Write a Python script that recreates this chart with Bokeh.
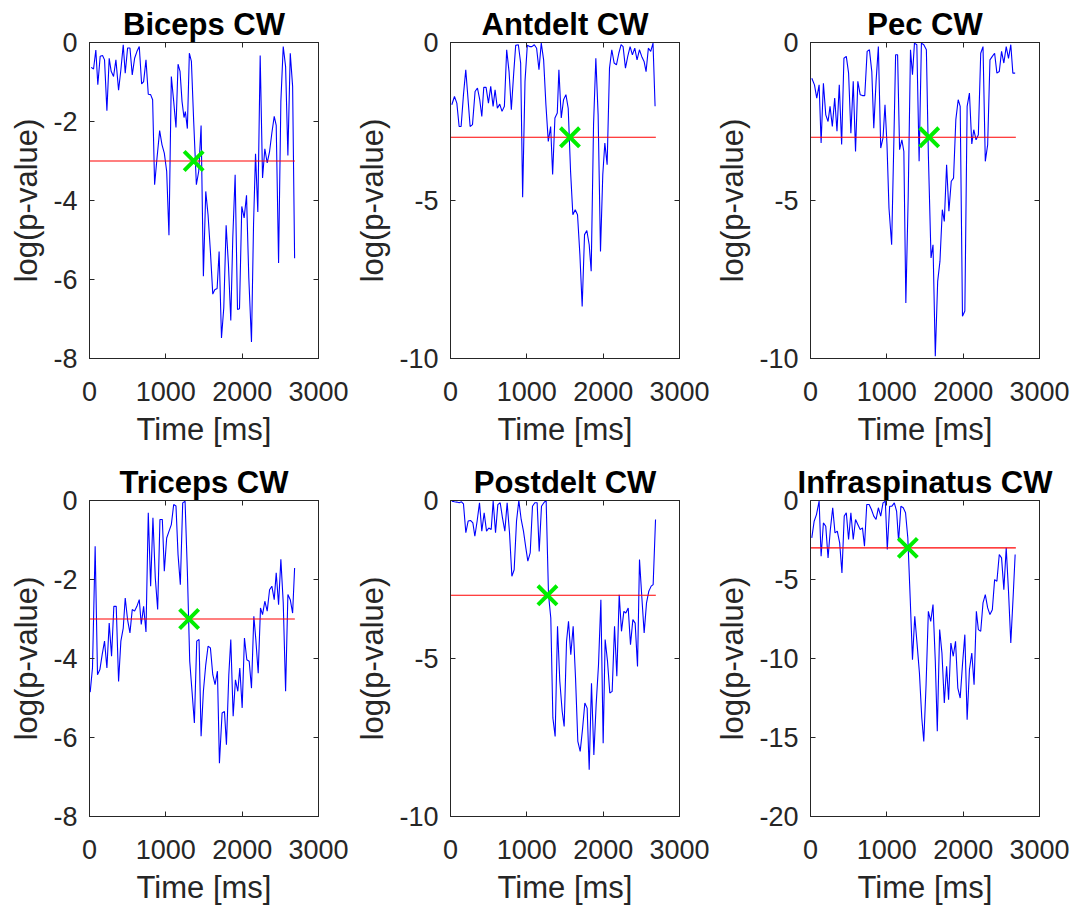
from bokeh.plotting import figure
from bokeh.models import Range1d, FixedTicker, LinearAxis, CustomJSTickFormatter
from bokeh.layouts import gridplot
from bokeh.embed import file_html
from bokeh.resources import INLINE

# ---------------- data ----------------
titles = ["Biceps CW", "Antdelt CW", "Pec CW", "Triceps CW", "Postdelt CW", "Infraspinatus CW"]
y_lows = [-8, -10, -10, -8, -10, -20]
y_ticks = [[-8, -6, -4, -2, 0], [-10, -5, 0], [-10, -5, 0],
           [-8, -6, -4, -2, 0], [-10, -5, 0], [-20, -15, -10, -5, 0]]
x_ticks = [0, 1000, 2000, 3000]
x_max = 3000
threshold = -3
threshold_t = [0, 2690]
onset_t = [1365, 1565, 1555, 1305, 1270, 1275]

biceps_t = [22,53,83,109,140,171,197,228,258,284,315,346,381,411,442,468,499,530,560,591,621,652,683,709,740,770,801,827,853,884,919,950,980,1011,1041,1072,1103,1133,1160,1186,1212,1238,1256,1282,1308,1335,1365,1400,1431,1462,1492,1523,1553,1584,1615,1641,1672,1698,1729,1759,1790,1820,1851,1877,1908,1939,1965,1995,2026,2057,2087,2122,2149,2175,2205,2236,2267,2297,2328,2359,2389,2420,2446,2477,2507,2538,2569,2599,2630,2661,2687]
biceps_p = [-0.63,-0.67,-0.19,-1.07,-0.35,-0.33,-0.44,-1.73,-0.40,-0.73,-0.86,-0.44,-1.21,-0.69,-0.06,-0.78,-0.14,-0.14,-0.82,-0.40,-0.23,-0.10,-1.05,-0.99,-0.44,-1.31,-1.32,-1.45,-3.60,-2.93,-2.23,-2.59,-2.80,-3.26,-4.88,-0.86,-1.49,-2.15,-0.55,-0.73,-1.49,-1.90,-1.75,-2.18,-0.27,-0.48,-2.00,-3.60,-3.26,-2.10,-5.92,-3.77,-4.36,-5.29,-6.37,-6.26,-6.23,-5.29,-7.48,-6.72,-4.63,-5.62,-7.04,-4.95,-3.35,-6.76,-6.74,-4.15,-4.44,-3.87,-5.96,-7.58,-4.61,-2.82,-4.29,-0.33,-3.43,-2.69,-3.05,-2.76,-2.29,-1.87,-2.10,-5.58,-1.49,-0.10,-0.61,-2.86,-0.27,-1.11,-5.46]

antdelt_t = [17,52,83,113,139,170,200,227,257,288,322,353,383,410,436,466,497,527,558,584,614,645,675,706,736,767,797,828,854,889,919,945,976,1006,1037,1067,1098,1128,1159,1189,1220,1250,1281,1312,1338,1368,1399,1420,1451,1481,1512,1542,1573,1603,1634,1664,1695,1725,1756,1786,1817,1843,1874,1904,1934,1965,1995,2022,2052,2083,2113,2144,2174,2205,2235,2261,2292,2322,2353,2383,2414,2444,2475,2505,2536,2562,2592,2623,2653,2680]
antdelt_p = [-1.97,-1.71,-1.92,-2.66,-2.66,-1.65,-0.86,-1.71,-2.66,-2.60,-1.55,-1.44,-1.81,-2.34,-1.42,-1.42,-1.92,-1.39,-2.02,-1.50,-2.08,-1.95,-2.18,-2.02,-0.23,-0.92,-2.13,-0.97,-0.09,-0.07,-0.65,-4.90,-1.23,-0.09,-0.13,-0.13,-0.07,-0.18,-0.86,-0.02,-0.55,-1.97,-3.13,-2.66,-4.18,-2.39,-2.23,-0.86,-2.39,-1.81,-1.65,-2.08,-4.08,-5.45,-5.29,-5.45,-6.71,-8.35,-6.08,-5.95,-6.40,-7.24,-2.60,-0.50,-2.29,-6.61,-4.18,-3.18,-3.87,-0.81,-0.23,-0.65,-0.71,-0.34,-0.07,-0.13,-0.81,-0.44,-0.13,-0.39,-0.18,-0.55,-0.23,-0.44,-0.60,-0.92,-0.18,-0.28,-0.02,-2.02]

pec_t = [17,52,82,113,139,169,200,230,256,286,317,347,377,408,438,469,499,529,560,590,620,651,681,711,742,772,803,829,859,889,920,950,976,1002,1028,1063,1093,1115,1141,1167,1197,1223,1249,1280,1310,1336,1362,1393,1423,1453,1484,1518,1544,1579,1605,1635,1666,1696,1727,1753,1783,1813,1844,1874,1904,1935,1961,1991,2022,2052,2082,2113,2139,2169,2199,2230,2260,2290,2321,2351,2382,2412,2442,2473,2503,2533,2564,2594,2624,2651,2681]
pec_p = [-1.13,-1.34,-1.76,-1.34,-3.18,-1.29,-2.29,-2.50,-2.02,-2.66,-1.76,-2.81,-1.34,-3.23,-0.50,-0.44,-0.97,-2.87,-1.23,-3.45,-1.23,-1.65,-1.68,-1.68,-0.28,-0.23,-0.92,-2.71,-1.23,-0.13,-3.34,-3.02,-1.97,-3.23,-5.24,-6.40,-3.02,-0.39,-0.39,-3.39,-3.08,-3.45,-8.24,-4.87,-0.23,-1.02,-0.02,-0.07,-3.76,-0.02,-0.07,-0.23,-3.55,-6.82,-6.40,-9.93,-7.56,-6.92,-5.29,-5.66,-3.87,-5.34,-4.39,-4.29,-2.44,-1.81,-2.02,-8.66,-8.50,-2.02,-1.60,-3.21,-2.76,-3.08,-2.92,-0.34,-0.13,-3.76,-3.23,-0.55,-0.44,-0.34,-0.97,-0.92,-0.28,-0.65,-0.13,-0.50,-0.07,-0.97,-0.97]

triceps_t = [9,39,74,105,136,166,197,228,258,289,319,350,381,411,442,468,499,530,560,591,621,652,678,709,740,770,801,831,862,893,923,954,980,1011,1041,1072,1103,1133,1160,1190,1221,1252,1282,1313,1343,1374,1405,1435,1462,1492,1523,1553,1584,1615,1645,1676,1702,1737,1768,1794,1825,1851,1882,1912,1943,1969,2000,2030,2061,2092,2122,2153,2179,2210,2240,2267,2297,2328,2359,2389,2420,2446,2477,2507,2538,2569,2599,2630,2661,2687]
triceps_p = [-4.85,-4.24,-1.16,-4.41,-4.28,-3.90,-3.56,-4.24,-3.10,-3.94,-2.68,-2.68,-4.58,-3.56,-3.23,-2.47,-3.02,-3.35,-2.76,-2.80,-2.68,-2.51,-3.14,-2.68,-3.33,-0.31,-2.17,-0.44,-1.96,-2.76,-0.48,-0.48,-1.79,-0.95,-0.78,-0.61,-0.10,-0.14,-1.37,-2.13,-0.06,-0.02,-1.79,-4.07,-4.83,-5.63,-3.56,-3.52,-5.97,-4.83,-4.16,-3.69,-3.73,-4.41,-4.66,-4.32,-6.65,-5.38,-5.34,-6.18,-4.41,-3.52,-5.46,-4.54,-4.83,-4.24,-5.25,-3.48,-4.03,-4.07,-4.75,-2.93,-3.52,-4.37,-2.72,-2.89,-2.55,-2.80,-2.26,-2.17,-2.51,-1.83,-2.64,-1.49,-2.59,-4.83,-2.38,-2.51,-2.85,-1.71]

postdelt_t = [17,52,83,114,144,170,201,231,262,293,319,349,380,410,441,472,502,533,559,590,620,651,681,712,742,773,804,834,865,895,926,956,987,1013,1044,1074,1105,1135,1162,1192,1223,1253,1284,1314,1341,1371,1402,1432,1463,1489,1520,1546,1576,1607,1638,1668,1699,1729,1760,1790,1817,1847,1878,1908,1939,1970,2000,2026,2057,2087,2118,2149,2179,2210,2240,2271,2297,2328,2358,2389,2419,2450,2476,2507,2537,2568,2598,2629,2655,2686]
postdelt_p = [-0.02,-0.04,-0.05,-0.07,-0.04,-0.11,-1.02,-0.65,-0.63,-0.71,-1.13,-0.65,-0.07,-0.97,-0.39,-0.97,-0.87,-0.92,-0.02,-1.02,-0.13,-0.07,-0.55,-0.97,-0.07,-1.02,-2.40,-2.19,-0.65,0.00,-0.60,-0.97,-1.50,-1.92,-1.66,-0.18,-0.07,-0.07,-1.61,-0.18,-0.07,0.00,-2.98,-3.72,-6.88,-7.47,-3.98,-5.72,-6.67,-7.15,-4.46,-3.82,-4.88,-3.98,-5.62,-7.62,-7.94,-7.25,-6.41,-6.57,-8.52,-5.78,-8.05,-6.46,-5.20,-3.14,-7.68,-4.40,-5.09,-6.09,-6.04,-3.98,-5.56,-2.98,-4.14,-3.51,-3.56,-3.40,-4.56,-3.77,-3.88,-5.25,-1.87,-3.08,-4.19,-3.24,-2.87,-2.71,-2.66,-0.60]

infra_t = [17,48,78,113,139,169,200,230,260,291,321,351,382,412,442,469,499,529,560,590,620,651,681,707,737,768,798,829,859,889,920,950,980,1006,1037,1067,1098,1128,1154,1184,1215,1245,1275,1306,1336,1366,1397,1427,1458,1484,1514,1544,1575,1605,1635,1661,1692,1722,1753,1783,1809,1839,1870,1900,1930,1961,1991,2022,2052,2082,2113,2143,2173,2199,2230,2260,2290,2321,2351,2382,2412,2442,2473,2503,2533,2564,2594,2624,2655,2681]
infra_p = [-2.37,-1.31,-0.89,-0.04,-3.53,-1.42,-1.63,-3.63,-1.84,-0.46,-2.05,-1.94,-2.68,-4.58,-0.99,-0.78,-2.47,-0.78,-2.47,-1.20,-1.52,-1.84,-1.73,-2.89,-0.25,-0.25,-0.57,-0.99,-1.20,-0.46,-0.99,-0.15,-0.04,-3.10,-0.36,-0.36,-0.15,-0.68,-2.58,-0.36,-0.46,-0.78,-2.37,-6.17,-10.07,-7.33,-9.12,-10.92,-13.77,-15.25,-11.66,-7.01,-7.65,-6.59,-10.18,-14.61,-8.17,-9.65,-12.82,-10.50,-12.61,-9.02,-9.86,-8.91,-11.87,-12.50,-10.39,-8.49,-13.88,-10.71,-9.65,-11.66,-7.01,-8.17,-8.28,-6.48,-5.96,-6.80,-7.22,-6.91,-5.01,-5.11,-3.42,-3.63,-5.64,-3.00,-5.74,-9.02,-6.06,-3.42]

series_t = [biceps_t, antdelt_t, pec_t, triceps_t, postdelt_t, infra_t]
series_p = [biceps_p, antdelt_p, pec_p, triceps_p, postdelt_p, infra_p]

# ---------------- styling ----------------
FONT = "Liberation Sans"
AX = "#262626"
col_left = [89, 98, 98]
col_right = [34, 33, 33]
row_top = [42, 40]
row_bottom = [102, 86]
plain = CustomJSTickFormatter(code="return String(tick);")


def style_axis(ax, ticks, font_size):
    ax.ticker = FixedTicker(ticks=ticks)
    ax.formatter = plain
    ax.major_label_text_font = FONT
    ax.major_label_text_font_size = font_size
    ax.major_label_text_color = AX
    ax.axis_line_color = AX
    ax.major_tick_line_color = AX
    ax.minor_tick_line_color = None
    ax.major_tick_in = 5
    ax.major_tick_out = 0
    ax.axis_label_text_font = FONT
    ax.axis_label_text_font_size = "31px"
    ax.axis_label_text_font_style = "normal"
    ax.axis_label_text_color = AX


figs = []
for i in range(6):
    r, c = divmod(i, 3)
    n = min(len(series_t[i]), len(series_p[i]))
    p = figure(frame_width=229, frame_height=316,
               x_range=Range1d(0, x_max), y_range=Range1d(y_lows[i], 0),
               output_backend="svg", toolbar_location=None,
               min_border_left=col_left[c], min_border_right=col_right[c],
               min_border_top=row_top[r], min_border_bottom=row_bottom[r],
               background_fill_color="white", border_fill_color="white")
    p.title.text = titles[i]
    p.title.text_font = FONT
    p.title.text_font_size = "31px"
    p.title.text_font_style = "bold"
    p.title.text_color = "black"
    p.title.align = "center"
    if "standoff" in p.title.properties():
        p.title.standoff = 2
    p.xgrid.visible = False
    p.ygrid.visible = False
    p.outline_line_color = AX
    p.outline_line_width = 1

    style_axis(p.xaxis[0], x_ticks, "27px")
    p.xaxis[0].axis_label = "Time [ms]"
    p.xaxis[0].major_label_standoff = 23
    p.xaxis[0].axis_label_standoff = 8
    style_axis(p.yaxis[0], y_ticks[i], "27px")
    p.yaxis[0].axis_label = "log(p-value)"
    p.yaxis[0].major_label_standoff = 12
    p.yaxis[0].axis_label_standoff = 6

    # mirrored ticks (box on), without labels
    top_ax = LinearAxis()
    style_axis(top_ax, x_ticks, "0px")
    top_ax.major_label_text_color = None
    top_ax.major_label_standoff = 0
    p.add_layout(top_ax, "above")
    right_ax = LinearAxis()
    style_axis(right_ax, y_ticks[i], "0px")
    right_ax.major_label_text_color = None
    right_ax.major_label_standoff = 0
    p.add_layout(right_ax, "right")

    p.line(series_t[i][:n], series_p[i][:n], line_color="#0000ff", line_width=1.1)
    p.line(threshold_t, [threshold, threshold], line_color="#ff0000", line_width=1.1)
    p.scatter([onset_t[i]], [threshold], marker="x", size=27, line_width=4,
              line_color="#00ee00")
    figs.append(p)

grid = gridplot([figs[0:3], figs[3:6]], toolbar_location=None)
open("out.html", "w").write(file_html(grid, INLINE))
